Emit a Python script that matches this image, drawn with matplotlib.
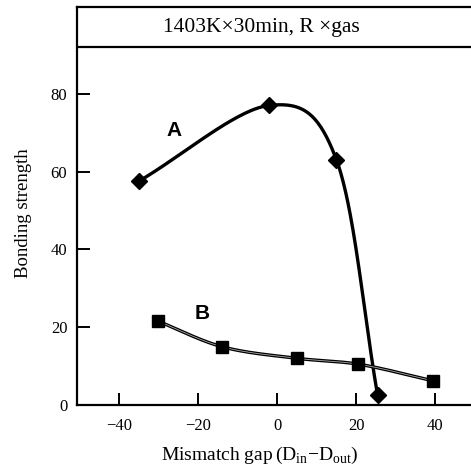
import numpy as np
import matplotlib
matplotlib.use("Agg")
import matplotlib.pyplot as plt

# Data
a_x = [-35, -2, 15, 25.4]
a_y = [57.5, 77, 63, 2.5]
b_x = [-30, -14, 5, 20.5, 39.5]
b_y = [21.5, 15, 12, 10.5, 6.2]
xticks = [-40, -20, 0, 20, 40]
yticks = [0, 20, 40, 60, 80]
header = "1403K\u00d730min, R \u00d7gas"


def catmull_rom(xs, ys, n=60, alpha=0.5):
    P = np.column_stack([xs, ys]).astype(float)
    P = np.vstack([2 * P[0] - P[1], P, 2 * P[-1] - P[-2]])
    out = []
    for i in range(1, len(P) - 2):
        p0, p1, p2, p3 = P[i - 1], P[i], P[i + 1], P[i + 2]
        t0 = 0.0
        t1 = t0 + np.linalg.norm(p1 - p0) ** alpha
        t2 = t1 + np.linalg.norm(p2 - p1) ** alpha
        t3 = t2 + np.linalg.norm(p3 - p2) ** alpha
        t = np.linspace(t1, t2, n)[:, None]
        A1 = (t1 - t) / (t1 - t0) * p0 + (t - t0) / (t1 - t0) * p1
        A2 = (t2 - t) / (t2 - t1) * p1 + (t - t1) / (t2 - t1) * p2
        A3 = (t3 - t) / (t3 - t2) * p2 + (t - t2) / (t3 - t2) * p3
        B1 = (t2 - t) / (t2 - t0) * A1 + (t - t0) / (t2 - t0) * A2
        B2 = (t3 - t) / (t3 - t1) * A2 + (t - t1) / (t3 - t1) * A3
        C = (t2 - t) / (t2 - t1) * B1 + (t - t1) / (t2 - t1) * B2
        out.append(C)
    C = np.vstack(out)
    return C[:, 0], C[:, 1]


plt.rcParams['font.family'] = ['Liberation Serif', 'DejaVu Serif']
plt.rcParams['mathtext.fontset'] = 'custom'
plt.rcParams['mathtext.rm'] = 'Liberation Serif'
fig = plt.figure(figsize=(4.71, 4.70), dpi=100)
ax_w = 0.87
ax = fig.add_axes([77 / 471, 65 / 470, ax_w, 398 / 470])
ax.set_xlim(-50.6, 53)
ax.set_ylim(0, 102.3)

for s in ax.spines.values():
    s.set_linewidth(1.6)

ax.axhline(92, color='black', lw=1.6)
ax.text(-4, 97, header, ha='center', va='center', fontsize=15.5)

cx, cy = catmull_rom(a_x, a_y, alpha=0.0)
ax.plot(cx, cy, color='black', lw=2.4, zorder=2)
ax.plot(a_x, a_y, 'D', color='black', ms=8.5, zorder=3)

bx, by = catmull_rom(b_x, b_y)
ax.plot(bx, by, color='black', lw=2.4, zorder=2)
ax.plot(bx, by, color='#aaaaaa', lw=0.6, zorder=2)
ax.plot(b_x, b_y, 's', color='black', ms=9, zorder=3)

ax.text(-26, 70.5, 'A', fontsize=15, fontweight='bold', family='Liberation Sans', ha='center', va='center')
ax.text(-19, 23.5, 'B', fontsize=15, fontweight='bold', family='Liberation Sans', ha='center', va='center')

ax.set_xticks(xticks)
ax.set_yticks(yticks)
ax.set_xticklabels([str(v).replace('-', '\u2212') for v in xticks])
ax.tick_params(direction='in', length=9, width=1.4, labelsize=12, pad=7)
ax.tick_params(axis='x', pad=9)

ax.set_ylabel('Bonding strength', fontsize=13.5)
ax.yaxis.set_label_coords(-0.11, 0.482)
ax.set_xlabel('Mismatch gap$\\,$(D$_{\\rm in}$\u2212D$_{\\rm out}$)', fontsize=14)
ax.xaxis.set_label_coords((260 - 77) / (ax_w * 471), -0.10)

fig.savefig('out.png', dpi=100)
